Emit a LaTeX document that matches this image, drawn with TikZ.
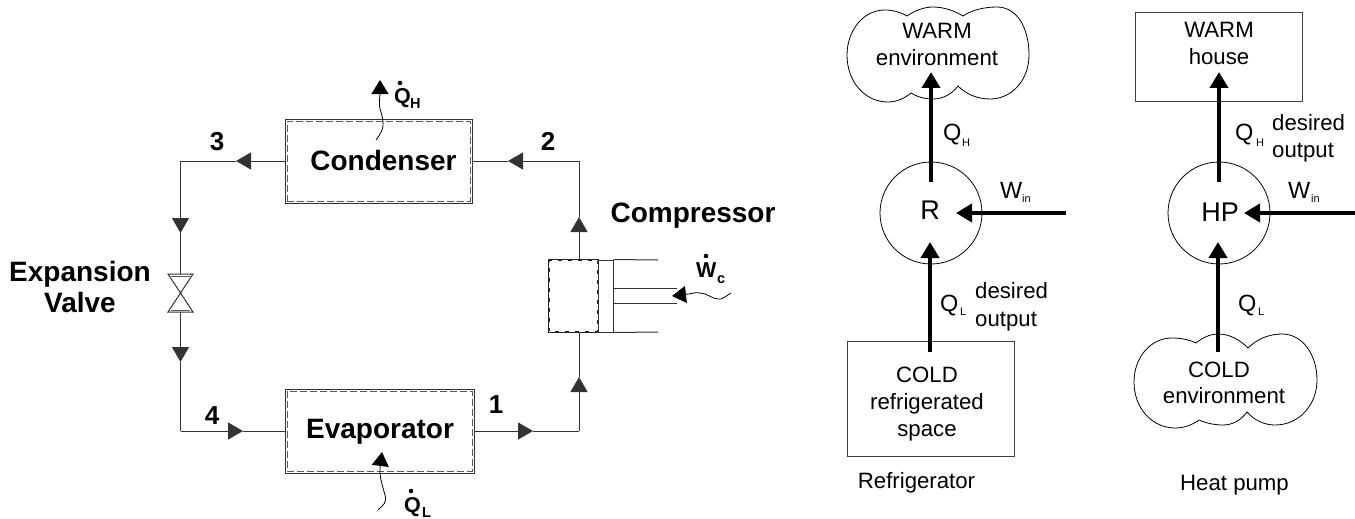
\documentclass[tikz,border=0pt]{standalone}
\usepackage{fontspec}
\setmainfont{Liberation Sans}
\usetikzlibrary{arrows.meta}
\definecolor{pipecol}{gray}{0.2}
\definecolor{dashcol}{gray}{0.35}
\tikzset{
  pipe/.style={draw=pipecol,line width=1pt},
  flowtip/.style={pipe,-{Triangle[length=15pt,width=17pt,sep=0pt]}},
  wavy/.style={draw=black,line width=0.8pt},
  wavytip/.style={wavy,-{Triangle[length=14pt,width=17pt]}},
  outerbox/.style={draw=black!80,line width=1pt,fill=white,inner sep=0pt,minimum width=#1},
  innerbox/.style={draw=dashcol,line width=1pt,dash pattern=on 7pt off 3pt,inner sep=0pt},
  bigarrow/.style={draw=black,line width=4pt,-{Triangle[length=16pt,width=18pt]}},
  thinbox/.style={draw=black!75,line width=0.9pt,inner sep=0pt},
  thincurve/.style={draw=black,line width=0.8pt},
  ring/.style={circle,draw=black,line width=0.8pt,minimum size=102pt,inner sep=0pt},
  bold/.style={anchor=base,inner sep=0pt,font=\bfseries\fontsize{28}{32}\selectfont},
  num/.style={anchor=base,inner sep=0pt,font=\bfseries\fontsize{26}{30}\selectfont},
  qbig/.style={anchor=base west,inner sep=0pt,font=\bfseries\fontsize{21.5}{26}\selectfont},
  qsub/.style={anchor=base west,inner sep=0pt,font=\bfseries\fontsize{14.5}{16}\selectfont},
  txt/.style={anchor=base,inner sep=0pt,font=\fontsize{22.2}{26}\selectfont},
  txtl/.style={anchor=base west,inner sep=0pt,font=\fontsize{22.2}{26}\selectfont},
  sym/.style={anchor=base west,inner sep=0pt,font=\fontsize{23.5}{26}\selectfont},
  symsub/.style={anchor=base west,inner sep=0pt,font=\fontsize{11}{13}\selectfont},
  big/.style={anchor=base,inner sep=0pt,font=\fontsize{27}{30}\selectfont},
}
\begin{document}
\begin{tikzpicture}[x=1pt,y=-1pt]
\useasboundingbox (0,0) rectangle (1355,519);
% ---- boxes
\node[outerbox=187pt,minimum height=84pt] (cond) at (378.5,161) {};
\node[innerbox,minimum width=183pt,minimum height=80pt] (condin) at (378.5,161) {};
\node[outerbox=189pt,minimum height=84pt] (evap) at (379.5,431) {};
\node[innerbox,minimum width=185pt,minimum height=80pt] (evapin) at (379.5,431) {};
\node[bold] (condtxt) at (383.5,170) {Condenser};
\node[bold] (evaptxt) at (380,438) {Evaporator};
% ---- compressor
\node[outerbox=49pt,minimum height=72pt,line width=1.8pt,draw=black!85] (comp) at (573.5,296) {};
\node[draw=white,line width=0.6pt,dash pattern=on 6pt off 4pt,inner sep=0pt,minimum width=48.5pt,minimum height=71.5pt] (compdash) at (573.5,296) {};
\node[draw=black!80,line width=1pt,inner sep=0pt,minimum width=15pt,minimum height=72pt] (pist) at (605.5,296) {};
\coordinate (cyltop) at (658,260);
\coordinate (cylbot) at (658,332);
\coordinate (rodtop) at (677,288.5);
\coordinate (rodbot) at (677,303.5);
\coordinate (rodtopa) at (613,288.5);
\coordinate (rodbota) at (613,303.5);
\draw[pipe] (pist.north east) -- (cyltop);
\draw[pipe] (pist.south east) -- (cylbot);
\draw[pipe] (rodtopa) -- (rodtop);
\draw[pipe] (rodbota) -- (rodbot);
% ---- valve
\coordinate (vtl) at (168,274);
\coordinate (vtr) at (193,274);
\coordinate (vbl) at (168,312);
\coordinate (vbr) at (193,312);
\coordinate (vc) at (180.5,293);
\draw[draw=black!80,line width=1pt,line join=miter] (vtl) -- (vtr) -- (vc) -- cycle;
\draw[draw=black!80,line width=1pt,line join=miter] (vbl) -- (vbr) -- (vc) -- cycle;
\coordinate (vtopa) at (171,276);
\coordinate (vtopb) at (190,276);
\coordinate (vbota) at (171,310);
\coordinate (vbotb) at (190,310);
\draw[draw=dashcol,line width=0.7pt] (vtopa) -- (vtopb);
\draw[draw=dashcol,line width=0.7pt] (vbota) -- (vbotb);
\coordinate (valveTop) at (180.5,274);
\coordinate (valveBot) at (180.5,312);
% ---- cycle pipes
\coordinate (c3) at (180.5,161);
\coordinate (t3a) at (236,161);
\coordinate (t3b) at (180.5,233);
\coordinate (t4a) at (180.5,362);
\coordinate (c4) at (180.5,431);
\coordinate (t4b) at (243,431);
\coordinate (t1) at (533,431);
\coordinate (c1) at (579,431);
\coordinate (t1b) at (579,377);
\coordinate (t2a) at (579,217);
\coordinate (c2) at (579,161);
\coordinate (t2b) at (508,161);
\coordinate (compbot) at (579,332);
\coordinate (comptop) at (579,260);
\draw[flowtip] (cond.west) -- (t3a);
\draw[pipe] (t3a) -- (c3);
\draw[flowtip] (c3) -- (t3b);
\draw[pipe] (t3b) -- (valveTop);
\draw[flowtip] (valveBot) -- (t4a);
\draw[pipe] (t4a) -- (c4);
\draw[flowtip] (c4) -- (t4b);
\draw[pipe] (t4b) -- (evap.west);
\draw[flowtip] (evap.east) -- (t1);
\draw[pipe] (t1) -- (c1);
\draw[flowtip] (c1) -- (t1b);
\draw[pipe] (t1b) -- (compbot);
\draw[flowtip] (comptop) -- (t2a);
\draw[pipe] (t2a) -- (c2);
\draw[flowtip] (c2) -- (t2b);
\draw[pipe] (t2b) -- (cond.east);
% ---- heat and work squiggles
\coordinate (qha) at (376,140);
\coordinate (qhb) at (381,112);
\coordinate (qht) at (380,80);
\draw[wavytip] (qha) .. controls (385,128) and (384,124) .. (qhb) .. controls (378,104) and (380,98) .. (qht);
\coordinate (qla) at (378,510);
\coordinate (qlb) at (385,495);
\coordinate (qlt) at (382,452);
\draw[wavytip] (qla) .. controls (384,504) and (387,503) .. (qlb) .. controls (382,484) and (379,476) .. (qlt);
\coordinate (wca) at (731,293);
\coordinate (wcb) at (718,299);
\coordinate (wcc) at (700,293);
\coordinate (wct) at (672,296);
\draw[wavytip] (wca) .. controls (726,296) and (722,300) .. (wcb) .. controls (712,299) and (707,293) .. (wcc) .. controls (695,292) and (690,294) .. (wct);
% ---- labels, left
\node[num] (n3) at (217,150) {3};
\node[num] (n2) at (548,150) {2};
\node[num] (n4) at (212,424) {4};
\node[num] (n1) at (496,413) {1};
\node[bold] (lcomp) at (693,222) {Compressor};
\node[bold] (lexp) at (80,281) {Expansion};
\node[bold] (lval) at (80,312) {Valve};
\node[qbig] (qh) at (394,103) {Q};
\node[qsub] (qhs) at (410,108) {H};
\fill (400,83) circle (2.3pt);
\node[qbig] (ql) at (404,512) {Q};
\node[qsub] (qls) at (422,517) {L};
\fill (411,491) circle (2.3pt);
\node[qbig] (wc) at (696,277) {W};
\node[qsub] (wcs) at (717,283) {c};
\fill (706,256) circle (2.3pt);
% ---- refrigerator
\path[thincurve,draw] (907,16) .. controls (900,12) and (893,10) .. (885,10)
  .. controls (862,10) and (847,32) .. (847,55)
  .. controls (847,82) and (865,102) .. (888,102)
  .. controls (897,102) and (905,98) .. (911,93)
  .. controls (917,97) and (925,99) .. (933,99)
  .. controls (943,99) and (952,94) .. (958,86)
  .. controls (966,94) and (977,99) .. (990,99)
  .. controls (1012,99) and (1029,80) .. (1029,55)
  .. controls (1029,28) and (1017,7) .. (997,7)
  .. controls (984,7) and (972,10) .. (963,16)
  .. controls (955,11) and (944,7) .. (933,7)
  .. controls (924,7) and (914,11) .. (907,16) -- cycle;
\node[txt] (w1) at (937,39) {WARM};
\node[txt] (w2) at (937,66) {environment};
\node[ring] (R) at (931,213) {};
\node[big] (Rt) at (930,219) {R};
\node[thinbox,minimum width=167pt,minimum height=115pt] (cold) at (930.5,398.5) {};
\node[txt] (c1t) at (927,382) {COLD};
\node[txt] (c2t) at (927,409) {refrigerated};
\node[txt] (c3t) at (927,436) {space};
\coordinate (ra) at (931,182);
\coordinate (rb) at (931,72);
\coordinate (rc) at (930,352);
\coordinate (rd) at (930,242);
\coordinate (re) at (1066,213);
\coordinate (rf) at (956,213);
\draw[bigarrow] (ra) -- (rb);
\draw[bigarrow] (rc) -- (rd);
\draw[bigarrow] (re) -- (rf);
\node[sym] (rqh) at (943,140) {Q};
\node[symsub] (rqhs) at (962,146) {H};
\node[sym] (rw) at (1000,198) {W};
\node[symsub] (rws) at (1022,202) {in};
\node[sym] (rql) at (940,311) {Q};
\node[symsub] (rqls) at (960,315) {L};
\node[txtl] (rd1) at (975,298) {desired};
\node[txtl] (rd2) at (975,326) {output};
\node[txt] (rcap) at (916.5,488) {Refrigerator};
% ---- heat pump
\node[thinbox,minimum width=167pt,minimum height=89pt] (house) at (1218.5,56.5) {};
\node[txt] (h1) at (1219,38) {WARM};
\node[txt] (h2) at (1219,65) {house};
\node[ring] (HP) at (1219,213) {};
\node[big] (HPt) at (1220,221) {HP};
\path[thincurve,draw] (1196,343) .. controls (1190,340) and (1181,338) .. (1172,338)
  .. controls (1150,338) and (1134,358) .. (1134,382)
  .. controls (1134,408) and (1152,428) .. (1175,428)
  .. controls (1184,428) and (1192,425) .. (1199,420)
  .. controls (1206,423) and (1214,425) .. (1223,425)
  .. controls (1233,425) and (1241,420) .. (1247,412)
  .. controls (1254,420) and (1264,425) .. (1275,425)
  .. controls (1299,425) and (1317,405) .. (1317,380)
  .. controls (1317,354) and (1302,334) .. (1282,334)
  .. controls (1269,334) and (1257,339) .. (1248,348)
  .. controls (1240,340) and (1230,334) .. (1218,334)
  .. controls (1210,334) and (1202,338) .. (1196,343) -- cycle;
\node[txt] (e1) at (1219,377) {COLD};
\node[txt] (e2) at (1224,403) {environment};
\coordinate (ha) at (1219,182);
\coordinate (hb) at (1219,72);
\coordinate (hc) at (1218,352);
\coordinate (hd) at (1218,242);
\coordinate (he) at (1355,213);
\coordinate (hf) at (1244,213);
\draw[bigarrow] (ha) -- (hb);
\draw[bigarrow] (hc) -- (hd);
\draw[bigarrow] (he) -- (hf);
\node[sym] (hqh) at (1235,140) {Q};
\node[symsub] (hqhs) at (1256,146) {H};
\node[txtl] (hd1) at (1272,130) {desired};
\node[txtl] (hd2) at (1272,157) {output};
\node[sym] (hw) at (1288,198) {W};
\node[symsub] (hws) at (1311,202) {in};
\node[sym] (hql) at (1238,311) {Q};
\node[symsub] (hqls) at (1258,315) {L};
\node[txt] (hcap) at (1234.5,490) {Heat pump};
\end{tikzpicture}
\end{document}
